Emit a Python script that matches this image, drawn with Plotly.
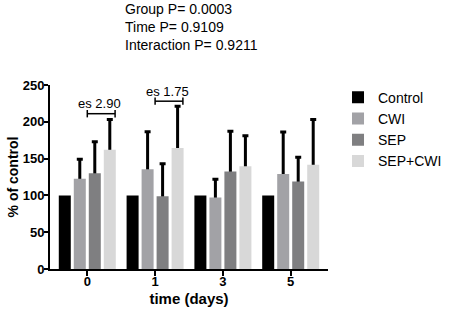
import plotly.graph_objects as go

# ---- data ----
time_labels = ["0", "1", "3", "5"]
groups = ["Control", "CWI", "SEP", "SEP+CWI"]
control_vals = [100, 100, 100, 100]
cwi_vals = [122.5, 135.5, 97, 129]
sep_vals = [130, 99, 132.5, 119]
sepcwi_vals = [162, 164.5, 139.5, 141.5]
control_err = [0, 0, 0, 0]
cwi_err = [26.5, 51, 25, 57]
sep_err = [43, 44, 54.5, 33]
sepcwi_err = [41, 56.5, 41.5, 61.5]
stats_text = ["Group P= 0.0003", "Time P= 0.9109", "Interaction P= 0.9211"]
es_labels = ["es 2.90", "es 1.75"]
es_group_idx = [0, 1]
es_bracket_y = [211, 228]
es_text_y = [225, 241]

values = [control_vals, cwi_vals, sep_vals, sepcwi_vals]
errors = [control_err, cwi_err, sep_err, sepcwi_err]
colors = ["#000000", "#a2a2a6", "#7f7f81", "#d8d8d8"]

xpos = list(range(len(time_labels)))
FONT = "Arial, 'Liberation Sans', sans-serif"

fig = go.Figure()
# error bars first (transparent bars in the same offset group), so the visible bars cover their lower end
for g, v, e in zip(groups, values, errors):
    fig.add_trace(go.Bar(
        x=xpos, y=v, offsetgroup=g, showlegend=False, hoverinfo="skip",
        marker=dict(color="rgba(0,0,0,0)", line=dict(width=0)),
        error_y=dict(type="data", symmetric=False, array=e,
                     arrayminus=[val / 2 for val in v],
                     color="#000000", thickness=3, width=3,
                     visible=any(x > 0 for x in e)),
    ))
for g, v, c in zip(groups, values, colors):
    fig.add_trace(go.Bar(
        x=xpos, y=v, offsetgroup=g, name=g,
        marker=dict(color=c, line=dict(width=0)),
    ))

# effect-size brackets
cap = 5
for lab, gi, by, ty in zip(es_labels, es_group_idx, es_bracket_y, es_text_y):
    x0, x1 = gi + 0.0, gi + 0.41
    fig.add_shape(type="line", xref="x", yref="y", x0=x0, x1=x1, y0=by, y1=by,
                  line=dict(color="#000", width=1.5))
    for xx in (x0, x1):
        fig.add_shape(type="line", xref="x", yref="y", x0=xx, x1=xx, y0=by - cap, y1=by + cap,
                      line=dict(color="#000", width=1.5))
    fig.add_annotation(x=(x0 + x1) / 2 - 0.02, y=ty, xref="x", yref="y", text=lab,
                       showarrow=False, font=dict(family=FONT, size=13, color="#000"),
                       xanchor="center", yanchor="middle")

fig.add_annotation(x=(123 - 50) / 278, y=1 + 86 / 184, xref="paper", yref="paper",
                   text="<br>".join(stats_text),
                   showarrow=False, align="left", xanchor="left", yanchor="top",
                   font=dict(family=FONT, size=14, color="#000"))

fig.update_layout(
    width=450, height=310,
    margin=dict(l=50, r=122, t=85, b=41, autoexpand=False),
    paper_bgcolor="white", plot_bgcolor="white",
    barmode="group", bargap=0.115, bargroupgap=0.2,
    font=dict(family=FONT, color="#000"),
    legend=dict(x=1.036, y=1.018, xanchor="left", yanchor="top",
                font=dict(family=FONT, size=14, color="#000"),
                bgcolor="rgba(0,0,0,0)", tracegroupgap=0),
    xaxis=dict(range=[-0.55, 3.55], tickvals=xpos, ticktext=time_labels, automargin=False,
               showline=True, linecolor="#000", linewidth=2, ticks="outside",
               ticklen=5, tickwidth=2, tickcolor="#000", showgrid=False, zeroline=False,
               ticklabelstandoff=-6,
               tickfont=dict(family=FONT, size=13, color="#000", weight="bold"),
               title=dict(text="<b>time (days)</b>", font=dict(family=FONT, size=15, color="#000"),
                          standoff=6)),
    yaxis=dict(range=[0, 250], tickvals=[0, 50, 100, 150, 200, 250], automargin=False,
               showline=True, linecolor="#000", linewidth=2, ticks="outside",
               ticklen=4, tickwidth=2, tickcolor="#000", showgrid=False, zeroline=False,
               ticklabelstandoff=-3,
               tickfont=dict(family=FONT, size=13, color="#000", weight="bold"),
               title=dict(text="<b>% of control</b>", font=dict(family=FONT, size=14, color="#000"),
                          standoff=1)),
)

fig.write_html("out.html", config={"displayModeBar": False},
               post_script="document.body.style.margin='0';")
